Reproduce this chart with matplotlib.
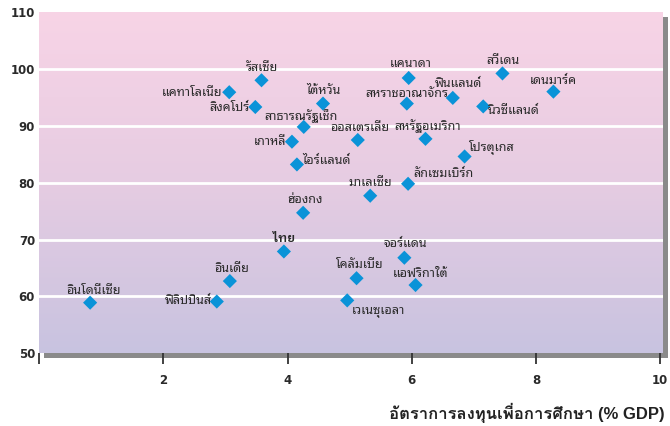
import matplotlib
matplotlib.use("Agg")
import matplotlib.pyplot as plt
import numpy as np
from matplotlib.colors import LinearSegmentedColormap
from matplotlib.patches import Rectangle

# Education spending (% of GDP) vs. score, by country
countries = [
    "อินโดนีเซีย", "ฟิลิปปินส์", "อินเดีย", "ไทย", "ฮ่องกง", "ไอร์แลนด์",
    "เกาหลี", "สาธารณรัฐเช็ก", "สิงคโปร์", "แคทาโลเนีย", "รัสเซีย", "ไต้หวัน",
    "ออสเตรเลีย", "มาเลเซีย", "โคลัมเบีย", "เวเนซุเอลา", "จอร์แดน", "แอฟริกาใต้",
    "ลักเซมเบิร์ก", "สหรัฐอเมริกา", "สหราชอาณาจักร", "แคนาดา", "ฟินแลนด์",
    "นิวซีแลนด์", "สวีเดน", "เดนมาร์ค", "โปรตุเกส",
]
spending = [
    0.82, 2.86, 3.07, 3.94, 4.25, 4.15,
    4.07, 4.26, 3.48, 3.06, 3.58, 4.57,
    5.13, 5.33, 5.11, 4.96, 5.88, 6.06,
    5.94, 6.22, 5.92, 5.95, 6.66,
    7.15, 7.46, 8.28, 6.85,
]
score = [
    58.9, 59.1, 62.7, 67.9, 74.7, 83.2,
    87.2, 89.8, 93.3, 95.9, 98.0, 93.9,
    87.5, 77.7, 63.2, 59.3, 66.8, 62.0,
    79.8, 87.7, 93.9, 98.4, 94.9,
    93.4, 99.2, 96.0, 84.6,
]
x_ticks = [0, 2, 4, 6, 8, 10]
x_tick_labels = ["", "2", "4", "6", "8", "10"]
y_ticks = [50, 60, 70, 80, 90, 100, 110]
x_title = "อัตราการลงทุนเพื่อการศึกษา (% GDP)"

# label placement: offset in pixels from the marker, horizontal alignment
placement = {
    "อินโดนีเซีย": (3, 12, "center"), "ฟิลิปปินส์": (-5, 1, "right"),
    "อินเดีย": (2, 13, "center"), "ไทย": (0, 13, "center"),
    "ฮ่องกง": (2, 13, "center"), "ไอร์แลนด์": (5, 4, "left"),
    "เกาหลี": (-6, 0, "right"), "สาธารณรัฐเช็ก": (-3, 11, "center"),
    "สิงคโปร์": (-6, -1, "right"), "แคทาโลเนีย": (-7, 0, "right"),
    "รัสเซีย": (0, 13, "center"), "ไต้หวัน": (1, 13, "center"),
    "ออสเตรเลีย": (2, 12, "center"), "มาเลเซีย": (0, 13, "center"),
    "โคลัมเบีย": (3, 14, "center"), "เวเนซุเอลา": (5, -11, "left"),
    "จอร์แดน": (1, 14, "center"), "แอฟริกาใต้": (5, 12, "center"),
    "ลักเซมเบิร์ก": (5, 10, "left"), "สหรัฐอเมริกา": (2, 13, "center"),
    "สหราชอาณาจักร": (0, 10, "center"), "แคนาดา": (2, 14, "center"),
    "ฟินแลนด์": (6, 14, "center"), "นิวซีแลนด์": (5, -4, "left"),
    "สวีเดน": (0, 13, "center"), "เดนมาร์ค": (0, 11, "center"),
    "โปรตุเกส": (4, 9, "left"),
}

THAI = ["Noto Sans Thai Looped", "Loma", "DejaVu Sans"]
THAI_BOLD = ["IBM Plex Sans Thai Looped", "Loma", "DejaVu Sans"]
NUM = ["DejaVu Sans"]
TITLE = ["Liberation Sans", "Loma", "DejaVu Sans"]

W, H = 670, 426
fig = plt.figure(figsize=(W / 100, H / 100), dpi=100)
fig.patch.set_facecolor("white")

ax_l, ax_r, ax_t, ax_b = 39.2, 662.7, 12.0, 353.3
rect = [ax_l / W, 1 - ax_b / H, (ax_r - ax_l) / W, (ax_b - ax_t) / H]

# drop shadow behind the plot area
sh = 5
fig.patches.append(Rectangle(((ax_l + sh) / W, 1 - (ax_b + sh) / H),
                             (ax_r - ax_l) / W, (ax_b - ax_t) / H,
                             transform=fig.transFigure, facecolor="#8a8a8a",
                             edgecolor="none", zorder=0))

ax = fig.add_axes(rect, zorder=1)
ax.set_xlim(0, 10.04)
ax.set_ylim(50, 110)

# vertical pink-to-lavender gradient background
cmap = LinearSegmentedColormap.from_list("bg", ["#c8c3e0", "#e6cce2", "#f8d4e6"])
grad = np.linspace(0, 1, 256).reshape(-1, 1)
ax.imshow(grad, cmap=cmap, origin="lower", aspect="auto",
          extent=[0, 1, 0, 1], transform=ax.transAxes, zorder=0)

for yv in y_ticks[1:-1]:
    ax.axhline(yv, color="white", lw=2.0, zorder=1)

ax.scatter(spending, score, marker="D", s=52, color="#0a93d8",
           edgecolors="none", zorder=3)

for name, xv, yv in zip(countries, spending, score):
    dx, dy, ha = placement[name]
    bold = name == "ไทย"
    ax.annotate(name, (xv, yv), xytext=(dx, dy), textcoords="offset pixels",
                ha=ha, va="center", fontsize=9, color="#2a2a2a",
                family=THAI_BOLD if bold else THAI,
                fontweight="semibold" if bold else "normal", zorder=4)

for s in ax.spines.values():
    s.set_visible(False)

ax.set_xticks(x_ticks)
ax.set_xticklabels(x_tick_labels)
ax.set_yticks(y_ticks)
ax.tick_params(axis="x", direction="out", length=8, width=1.3, color="#333333",
               pad=7, labelsize=8.5)
ax.tick_params(axis="y", length=0, pad=3, labelsize=8.5)
for lab in ax.get_xticklabels() + ax.get_yticklabels():
    lab.set_family(NUM)
    lab.set_fontweight("bold")
    lab.set_color("#2a2a2a")

fig.text(665 / W, 1 - 413 / H, x_title, ha="right", va="center",
         fontsize=12, fontweight="bold", color="#222222", family=TITLE)

fig.savefig("out.png", dpi=100)
